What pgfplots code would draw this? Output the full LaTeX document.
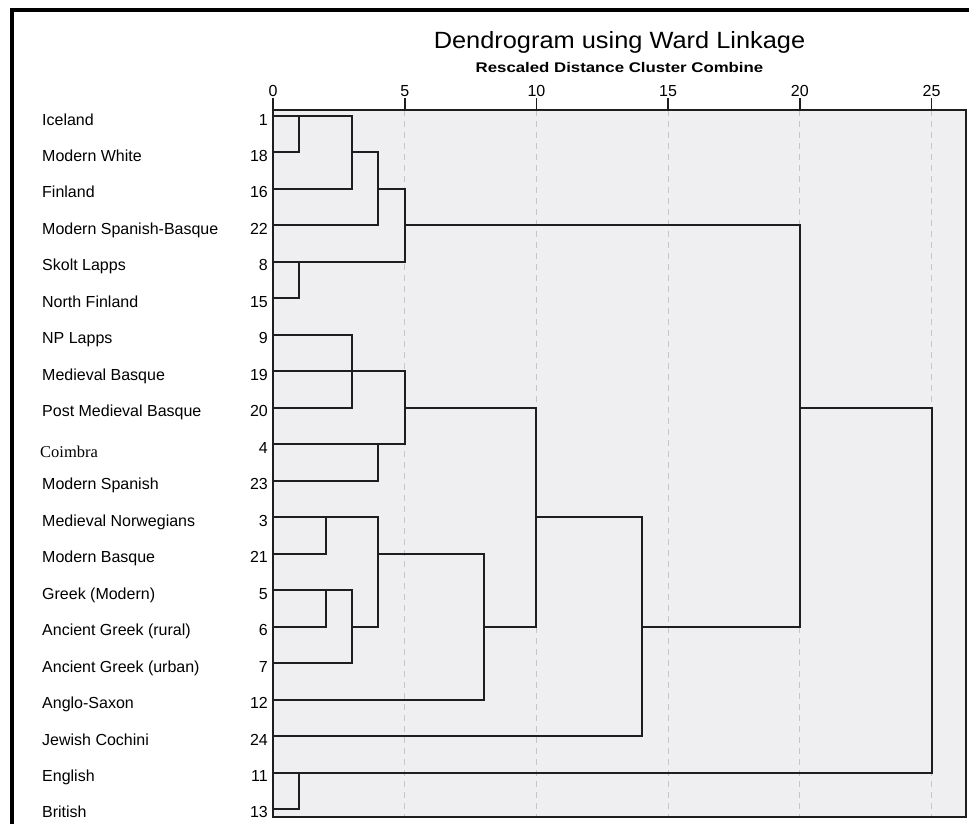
\documentclass[border=0pt]{standalone}
\usepackage{fontspec}
\setmainfont{Liberation Sans}
\newfontfamily\serifface{Liberation Serif}
\usepackage{pgfplots}
\pgfplotsset{compat=1.18}

\definecolor{panel}{RGB}{239,239,242}
\definecolor{ink}{RGB}{30,30,30}
\definecolor{gridgray}{RGB}{198,198,200}

\pgfplotsset{seg/.style={draw=ink, line width=2pt, mark=none, line join=miter}}

% case name on the left and case number beside the axis, baseline a little below the row line
\newcommand{\rowname}[3]{%
  \node[anchor=base west, inner sep=0pt, font=\fontsize{16}{18}\selectfont, xshift=-231pt, yshift=-9pt] at (axis cs:0,#1) {#2};
  \node[anchor=base east, inner sep=0pt, font=\fontsize{16}{18}\selectfont, xshift=-5pt, yshift=-9pt] at (axis cs:0,#1) {#3};}

\begin{document}
\begin{tikzpicture}
\path[use as bounding box, fill=white] (0pt,0pt) rectangle (969pt,-824pt);
\begin{axis}[
  name=ax,
  at={(273pt,-817pt)}, anchor=south west,
  scale only axis, width=693pt, height=707pt,
  xmin=0, xmax=26.31, ymin=0.835, ymax=20.22, y dir=reverse,
  axis background/.style={fill=panel},
  axis line style={draw=ink, line width=1.6pt},
  xtick={0,5,10,15,20,25}, xticklabels={0,5,10,15,20,25},
  xtick pos=upper, xticklabel pos=upper,
  major tick length=0pt,
  xticklabel style={font=\fontsize{16}{18}\selectfont, anchor=base, inner sep=0pt, yshift=14pt},
  ytick=\empty,
  xmajorgrids, ymajorgrids=false,
  major grid style={draw=gridgray, line width=1.2pt, dash pattern=on 6pt off 5pt},
  clip=false,
]
% first group: Iceland ... North Finland
\addplot[seg] coordinates {(0,1) (1,1) (1,2) (0,2)};
\addplot[seg] coordinates {(1,1) (3,1) (3,3) (0,3)};
\addplot[seg] coordinates {(3,2) (4,2) (4,4) (0,4)};
\addplot[seg] coordinates {(0,5) (1,5) (1,6) (0,6)};
\addplot[seg] coordinates {(4,3) (5,3) (5,5) (1,5)};
% Lapps, Basques, Coimbra, Spanish
\addplot[seg] coordinates {(0,7) (3,7) (3,9) (0,9)};
\addplot[seg] coordinates {(0,8) (3,8)};
\addplot[seg] coordinates {(0,10) (4,10) (4,11) (0,11)};
\addplot[seg] coordinates {(3,8) (5,8) (5,10) (4,10)};
% Norwegians, Greeks, Anglo-Saxon
\addplot[seg] coordinates {(0,12) (2,12) (2,13) (0,13)};
\addplot[seg] coordinates {(0,14) (2,14) (2,15) (0,15)};
\addplot[seg] coordinates {(2,14) (3,14) (3,16) (0,16)};
\addplot[seg] coordinates {(2,12) (4,12) (4,15) (3,15)};
\addplot[seg] coordinates {(4,13) (8,13) (8,17) (0,17)};
% higher-level joins
\addplot[seg] coordinates {(5,9) (10,9) (10,15) (8,15)};
\addplot[seg] coordinates {(10,12) (14,12) (14,18) (0,18)};
\addplot[seg] coordinates {(5,4) (20,4) (20,15) (14,15)};
\addplot[seg] coordinates {(0,19) (1,19) (1,20) (0,20)};
\addplot[seg] coordinates {(20,9) (25,9) (25,19) (1,19)};

\rowname{1}{Iceland}{1}
\rowname{2}{Modern White}{18}
\rowname{3}{Finland}{16}
\rowname{4}{Modern Spanish-Basque}{22}
\rowname{5}{Skolt Lapps}{8}
\rowname{6}{North Finland}{15}
\rowname{7}{NP Lapps}{9}
\rowname{8}{Medieval Basque}{19}
\rowname{9}{Post Medieval Basque}{20}
\node[anchor=base west, inner sep=0pt, font=\serifface\fontsize{16.5}{18}\selectfont, xshift=-233pt, yshift=-13pt] at (axis cs:0,10) {Coimbra};
\node[anchor=base east, inner sep=0pt, font=\fontsize{16}{18}\selectfont, xshift=-5pt, yshift=-9pt] at (axis cs:0,10) {4};
\rowname{11}{Modern Spanish}{23}
\rowname{12}{Medieval Norwegians}{3}
\rowname{13}{Modern Basque}{21}
\rowname{14}{Greek (Modern)}{5}
\rowname{15}{Ancient Greek (rural)}{6}
\rowname{16}{Ancient Greek (urban)}{7}
\rowname{17}{Anglo-Saxon}{12}
\rowname{18}{Jewish Cochini}{24}
\rowname{19}{English}{11}
\rowname{20}{British}{13}

\node[anchor=base, inner sep=0pt, yshift=62pt] at (rel axis cs:0.5,1)
  {\scalebox{1.08}[1]{\fontsize{23.5}{28}\selectfont Dendrogram using Ward Linkage}};
\node[anchor=base, inner sep=0pt, yshift=37.5pt] at (rel axis cs:0.5,1)
  {\scalebox{1.2}[1]{\fontsize{14}{17}\selectfont\bfseries Rescaled Distance Cluster Combine}};
\end{axis}
% scale tick marks standing on the top edge of the panel
\foreach \t in {0,5,10,15,20,25}
  \draw[draw=ink, line width=1.6pt] ([xshift=\t*26.34pt]ax.north west) -- ++(0pt,12pt);
\draw[line width=4pt, black, line join=miter] (12pt,-824pt) -- (12pt,-10.5pt) -- (969pt,-10.5pt);
\end{tikzpicture}
\end{document}
